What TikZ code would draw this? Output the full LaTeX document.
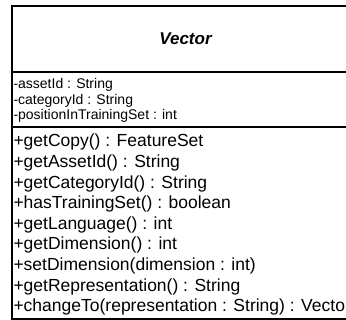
\documentclass[tikz,border=0pt]{standalone}
\usepackage{fontspec}
\setmainfont{Liberation Sans}
\usetikzlibrary{positioning}

\tikzset{
  attr/.style={anchor=base west,inner sep=0pt,font=\fontsize{14}{15.5}\selectfont},
  meth/.style={anchor=base west,inner sep=0pt,font=\fontsize{17.5}{20.6}\selectfont},
  classname/.style={inner sep=0pt,font=\fontsize{17}{20}\selectfont\bfseries\itshape}
}

\begin{document}
\begin{tikzpicture}[x=1pt,y=-1pt,line width=2pt]

\useasboundingbox (0,0) rectangle (346,320);
\clip (0,0) rectangle (346,320);

% class box, runs out on the right
\coordinate(nw) at (12,6);
\coordinate(se) at (359,319);
\coordinate(s1w) at (12,72);
\coordinate(s1e) at (359,72);
\coordinate(s2w) at (12,127);
\coordinate(s2e) at (359,127);

\draw(nw) rectangle (se);
\draw(s1w) -- (s1e);
\draw(s2w) -- (s2e);

\node[classname](title) at (185.5,39) {Vector};

% attributes
\foreach \txt [count=\i] in {{-assetId : String},{-categoryId : String},{-positionInTrainingSet : int}}
  \node[attr](a\i) at (12.5,{89+15.5*(\i-1)}) {\txt};

% operations
\foreach \txt [count=\i] in {{+getCopy() : FeatureSet},{+getAssetId() : String},
    {+getCategoryId() : String},{+hasTrainingSet() : boolean},{+getLanguage() : int},
    {+getDimension() : int},{+setDimension(dimension : int)},{+getRepresentation() : String},
    {+changeTo(representation : String) : Vector}}
  \node[meth](m\i) at (12.5,{147+20.6*(\i-1)}) {\txt};

\end{tikzpicture}
\end{document}
